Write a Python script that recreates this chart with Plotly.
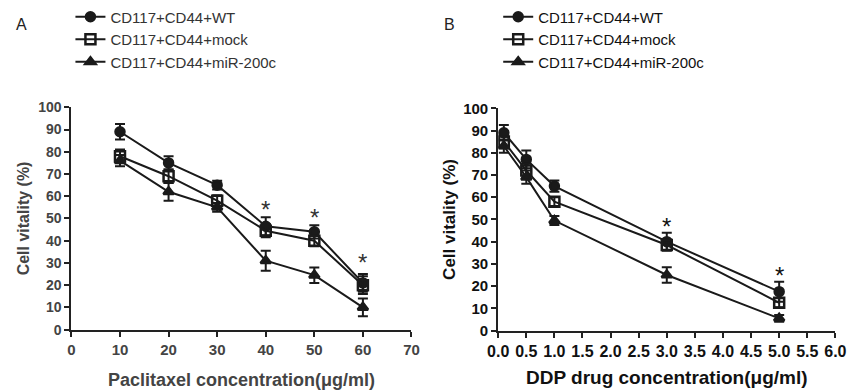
import plotly.graph_objects as go

# ---- Panel A data (Paclitaxel) ----
xA = [10, 20, 30, 40, 50, 60]
wtA = [89, 75, 65, 46.5, 44, 21]
wtA_err = [3.5, 3, 2, 4, 3, 4]
mockA = [78, 69, 58, 44.5, 40, 20]
mockA_err = [3, 3, 2.5, 3, 2.5, 4]
mirA = [76, 62, 55, 31, 24.5, 10]
mirA_err = [2.5, 4, 2, 4.5, 3.5, 4]
starA_x = [40, 50, 60]
starA_y = [54, 50.5, 30]

# ---- Panel B data (DDP) ----
xB = [0.1, 0.5, 1.0, 3.0, 5.0]
wtB = [89, 77, 65, 40, 17.5]
wtB_err = [3.5, 4, 2.5, 4, 4.5]
mockB = [85, 72, 58, 38.5, 12.5]
mockB_err = [3, 3, 2, 2.5, 2]
mirB = [83, 69, 49.5, 25, 5.5]
mirB_err = [3, 3, 2, 3.5, 1.5]
starB_x = [3.0, 5.0]
starB_y = [47, 25]

names = ["CD117+CD44+WT", "CD117+CD44+mock", "CD117+CD44+miR-200c"]
symbols = ["circle", "square-open", "triangle-up"]
sizes = [9, 10, 9]

fig = go.Figure()

def add_series(x, y, err, name, sym, sz, xa, ya, leg):
    fig.add_trace(go.Scatter(
        x=x, y=y, mode="lines+markers", name=name,
        xaxis=xa, yaxis=ya, legend=leg,
        line=dict(color="#1a1a1a", width=2),
        marker=dict(symbol=sym, size=sz, color="#1a1a1a",
                    line=dict(color="#1a1a1a", width=2.5)),
        error_y=dict(type="data", array=err, visible=True,
                     color="#1a1a1a", thickness=2, width=5),
    ))

for y, e, n, s, z in zip([wtA, mockA, mirA], [wtA_err, mockA_err, mirA_err], names, symbols, sizes):
    add_series(xA, y, e, n, s, z, "x", "y", "legend")
for y, e, n, s, z in zip([wtB, mockB, mirB], [wtB_err, mockB_err, mirB_err], names, symbols, sizes):
    add_series(xB, y, e, n, s, z, "x2", "y2", "legend2")

annots = []
for sx, sy in zip(starA_x, starA_y):
    annots.append(dict(x=sx, y=sy, xref="x", yref="y", text="*", showarrow=False,
                       font=dict(family="Liberation Sans", size=24, color="#333")))
for sx, sy in zip(starB_x, starB_y):
    annots.append(dict(x=sx, y=sy, xref="x2", yref="y2", text="*", showarrow=False,
                       font=dict(family="Liberation Sans", size=24, color="#111")))
annots.append(dict(x=0.004, y=0.99, xref="paper", yref="paper", text="A", showarrow=False,
                   xanchor="left", yanchor="top", font=dict(family="Liberation Sans", size=16, color="#222")))
annots.append(dict(x=0.514, y=0.99, xref="paper", yref="paper", text="B", showarrow=False,
                   xanchor="left", yanchor="top", font=dict(family="Liberation Sans", size=16, color="#222")))

W, H = 860, 392
def xd(a, b):
    return [a / W, b / W]
def yd(top, bottom):
    return [1 - bottom / H, 1 - top / H]

axis_common = dict(showline=True, linecolor="#222", linewidth=2, ticks="outside",
                   tickcolor="#222", tickwidth=2, ticklen=5, showgrid=False, zeroline=False,
                   mirror=False)

tickAx = dict(family="Liberation Sans", size=15, color="#444", weight="bold")
tickAy = dict(family="Liberation Sans", size=14, color="#444", weight="bold")
tickBx = dict(family="Liberation Sans", size=16, color="#111", weight="bold")
tickBy = dict(family="Liberation Sans", size=15, color="#111", weight="bold")
xtitleA = dict(family="Liberation Sans", size=18, color="#444", weight="bold")
ytitleA = dict(family="Liberation Sans", size=16, color="#444", weight="bold")
xtitleB = dict(family="Liberation Sans", size=19, color="#111", weight="bold")
ytitleB = dict(family="Liberation Sans", size=17, color="#111", weight="bold")

fig.update_layout(
    width=W, height=H, margin=dict(l=0, r=0, t=0, b=0),
    plot_bgcolor="white", paper_bgcolor="white",
    xaxis=dict(domain=xd(62, 411), range=[0, 70], tickvals=list(range(0, 71, 10)),
               tickfont=tickAx, anchor="y",
               title=dict(text="Paclitaxel concentration(μg/ml)", font=xtitleA, standoff=17),
               **axis_common),
    yaxis=dict(domain=yd(102, 335), range=[0, 100], tickvals=list(range(0, 101, 10)),
               tickfont=tickAy, anchor="x",
               title=dict(text="Cell vitality (%)", font=ytitleA, standoff=5),
               **axis_common),
    xaxis2=dict(domain=xd(500, 846), range=[0, 6], tickvals=[i * 0.5 for i in range(13)],
                tickformat=".1f", tickfont=tickBx, anchor="y2",
                title=dict(text="DDP drug concentration(μg/ml)", font=xtitleB, standoff=12),
                **axis_common),
    yaxis2=dict(domain=yd(103, 336), range=[0, 100], tickvals=list(range(0, 101, 10)),
                tickfont=tickBy, anchor="x2",
                title=dict(text="Cell vitality (%)", font=ytitleB, standoff=3),
                **axis_common),
    legend=dict(x=61 / W, y=1 + 10 / H, xanchor="left", yanchor="top",
                font=dict(family="Liberation Sans", size=15, color="#333"),
                bgcolor="rgba(0,0,0,0)", tracegroupgap=0, itemwidth=30),
    legend2=dict(x=500 / W, y=1 + 10 / H, xanchor="left", yanchor="top",
                 font=dict(family="Liberation Sans", size=15, color="#111"),
                 bgcolor="rgba(0,0,0,0)", tracegroupgap=0, itemwidth=30),
    annotations=annots,
    showlegend=True,
)

fig.write_html("out.html")
